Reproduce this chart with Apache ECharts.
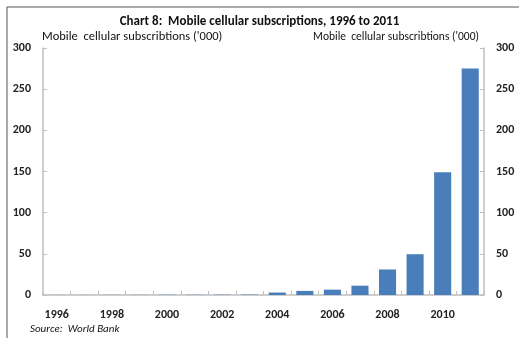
<!DOCTYPE html>
<html>
<head>
<meta charset="utf-8">
<script src="https://cdn.jsdelivr.net/npm/echarts@6/dist/echarts.min.js"></script>
<style>
  html, body { margin: 0; padding: 0; background: #fff; }
  #chart { width: 519px; height: 338px; }
</style>
</head>
<body>
<div id="chart"></div>
<script>
// Mobile cellular subscriptions ('000), 1996-2011
const years = ['1996','1997','1998','1999','2000','2001','2002','2003',
               '2004','2005','2006','2007','2008','2009','2010','2011'];
const subscriptions = [0.1, 0.1, 0.2, 0.2, 0.3, 0.3, 0.4, 0.5,
                       3, 5, 6.5, 11.3, 31, 49.5, 149, 275];
const yTicks = { min: 0, max: 300, step: 50 };

const titleText = 'Chart 8:  Mobile cellular subscriptions, 1996 to 2011';
const axisName = "Mobile  cellular subscribtions ('000)";
const sourceText = 'Source:  World Bank';

const font = 'Carlito, "Liberation Sans Narrow", "Liberation Sans", sans-serif';
const axisGrey = '#bfbfbf';

function valueAxis(position, align, nameSize) {
  return {
    type: 'value',
    position: position,
    min: yTicks.min,
    max: yTicks.max,
    interval: yTicks.step,
    name: axisName,
    nameLocation: 'end',
    nameGap: 5,
    nameTextStyle: {
      fontFamily: font, fontSize: nameSize, color: '#111', align: align,
      padding: align === 'left' ? [0, 0, 0, -1] : [0, 5, 0, 0]
    },
    axisLine: { show: true, lineStyle: { color: axisGrey, width: 1.5 } },
    axisTick: { show: true, inside: true, length: 4, lineStyle: { color: axisGrey } },
    axisLabel: { margin: 12, fontFamily: font, fontSize: 12, fontWeight: 'bold', color: '#222' },
    splitLine: { show: false }
  };
}

const chart = echarts.init(document.getElementById('chart'), null, { renderer: 'canvas' });
chart.setOption({
  animation: false,
  backgroundColor: '#fff',
  title: [
    {
      text: titleText, left: 'center', top: 10,
      textStyle: { fontFamily: font, fontSize: 13, fontWeight: 'bold', color: '#111' }
    },
    {
      text: sourceText, left: 25, top: 319,
      textStyle: { fontFamily: font, fontSize: 11, fontStyle: 'italic', fontWeight: 'normal', color: '#111' }
    }
  ],
  graphic: [
    {
      type: 'polyline', silent: true,
      shape: { points: [[7, 340], [7, 7], [521, 7]] },
      style: { stroke: '#555', lineWidth: 1, fill: null }
    }
  ],
  grid: { left: 43, right: 35, top: 48, bottom: 43 },
  xAxis: {
    type: 'category',
    data: years,
    axisLine: { lineStyle: { color: axisGrey, width: 1.5 } },
    axisTick: { show: true, inside: true, length: 4, alignWithLabel: false, interval: 0,
                lineStyle: { color: axisGrey } },
    axisLabel: { interval: 1, margin: 14, fontFamily: font, fontSize: 12, fontWeight: 'bold', color: '#222' }
  },
  yAxis: [valueAxis('left', 'left', 12.5), valueAxis('right', 'right', 11.5)],
  series: [{
    type: 'bar',
    data: subscriptions,
    barCategoryGap: '38%',
    itemStyle: { color: '#4a7ebb' }
  }]
});
</script>
</body>
</html>
